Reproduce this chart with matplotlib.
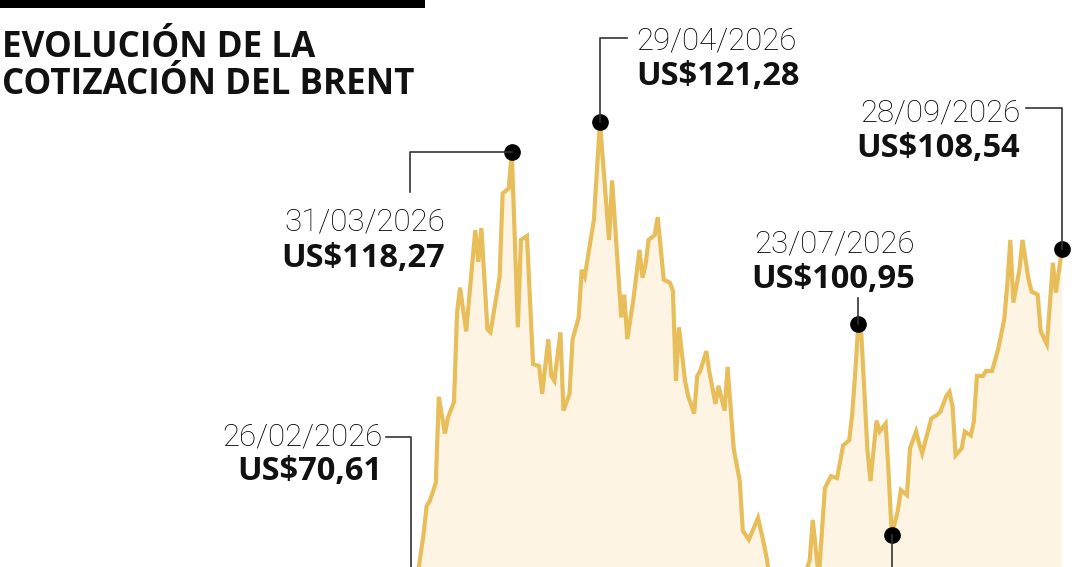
import matplotlib
matplotlib.use("Agg")
import matplotlib.pyplot as plt
import matplotlib.dates as mdates
import pandas as pd
from matplotlib.lines import Line2D
from matplotlib.patches import Rectangle

# ---------------- data ----------------
dates = [
    "2026-02-26", "2026-02-27", "2026-03-02", "2026-03-03", "2026-03-04", "2026-03-06",
    "2026-03-07", "2026-03-09", "2026-03-10", "2026-03-12", "2026-03-13", "2026-03-14",
    "2026-03-16", "2026-03-17", "2026-03-19", "2026-03-20", "2026-03-21", "2026-03-23",
    "2026-03-24", "2026-03-27", "2026-03-28", "2026-03-30", "2026-03-31", "2026-04-02",
    "2026-04-03", "2026-04-05", "2026-04-06", "2026-04-07", "2026-04-09", "2026-04-10",
    "2026-04-12", "2026-04-13", "2026-04-14", "2026-04-16", "2026-04-17", "2026-04-19",
    "2026-04-20", "2026-04-22", "2026-04-23", "2026-04-24", "2026-04-27", "2026-04-29",
    "2026-05-02", "2026-05-03", "2026-05-04", "2026-05-06", "2026-05-07", "2026-05-08",
    "2026-05-10", "2026-05-12", "2026-05-13", "2026-05-14", "2026-05-15", "2026-05-17",
    "2026-05-18", "2026-05-20", "2026-05-22", "2026-05-23", "2026-05-24", "2026-05-25",
    "2026-05-27", "2026-05-28", "2026-05-30", "2026-05-31", "2026-06-01", "2026-06-03",
    "2026-06-04", "2026-06-06", "2026-06-07", "2026-06-09", "2026-06-10", "2026-06-12",
    "2026-06-14", "2026-06-15", "2026-06-17", "2026-06-20", "2026-06-22", "2026-06-23",
    "2026-06-24", "2026-06-26", "2026-06-27", "2026-06-29", "2026-07-01", "2026-07-02",
    "2026-07-04", "2026-07-05", "2026-07-07", "2026-07-08", "2026-07-10", "2026-07-12",
    "2026-07-14", "2026-07-16", "2026-07-18", "2026-07-20", "2026-07-21", "2026-07-22",
    "2026-07-23", "2026-07-24", "2026-07-26", "2026-07-27", "2026-07-29", "2026-07-30",
    "2026-08-01", "2026-08-02", "2026-08-03", "2026-08-05", "2026-08-06", "2026-08-08",
    "2026-08-09", "2026-08-11", "2026-08-12", "2026-08-13", "2026-08-16", "2026-08-18",
    "2026-08-19", "2026-08-21", "2026-08-22", "2026-08-23", "2026-08-24", "2026-08-26",
    "2026-08-27", "2026-08-29", "2026-08-30", "2026-08-31", "2026-09-02", "2026-09-03",
    "2026-09-05", "2026-09-07", "2026-09-09", "2026-09-10", "2026-09-11", "2026-09-12",
    "2026-09-14", "2026-09-15", "2026-09-17", "2026-09-18", "2026-09-20", "2026-09-21",
    "2026-09-23", "2026-09-24", "2026-09-25", "2026-09-26", "2026-09-28",
]
prices = [
    70.61, 73.52, 79.90, 82.70, 83.19, 84.99,
    93.66, 89.97, 91.57, 93.16, 102.14, 104.63,
    100.24, 103.63, 110.41, 107.22, 110.61, 100.44,
    100.14, 105.73, 114.10, 114.60, 118.27, 100.64,
    109.42, 109.81, 103.43, 96.95, 96.75, 93.96,
    99.45, 95.76, 95.26, 100.14, 92.27, 93.96,
    99.45, 101.64, 106.42, 105.73, 111.41, 121.28,
    109.42, 115.40, 110.91, 101.64, 103.93, 99.45,
    103.43, 108.42, 105.63, 106.92, 109.42, 109.91,
    111.71, 105.43, 105.13, 104.33, 95.26, 100.64,
    95.26, 93.76, 91.97, 95.76, 96.26, 98.25,
    96.16, 92.96, 94.76, 92.27, 96.65, 88.48,
    85.19, 80.20, 79.31, 81.50, 78.81, 77.21,
    75.02, 73.52, 74.52, 72.53, 74.02, 73.03,
    74.52, 75.52, 77.21, 81.30, 75.52, 84.49,
    85.69, 85.49, 88.78, 89.28, 91.97, 96.16,
    100.95, 99.94, 88.28, 85.19, 91.27, 90.17,
    90.97, 85.79, 79.80, 82.20, 84.29, 83.79,
    88.48, 90.17, 88.98, 87.98, 91.47, 91.87,
    92.17, 93.76, 94.16, 92.67, 87.78, 88.48,
    90.17, 89.77, 91.17, 95.76, 95.76, 96.26,
    96.26, 98.45, 101.44, 104.93, 109.42, 103.13,
    106.42, 109.42, 105.43, 104.23, 103.93, 100.24,
    98.95, 102.93, 107.12, 104.13, 108.54,
]
highlight_dates = ["2026-02-26", "2026-03-31", "2026-04-29", "2026-07-23", "2026-08-03", "2026-09-28"]
highlight_labels = ["26/02/2026", "31/03/2026", "29/04/2026", "23/07/2026", None, "28/09/2026"]
title_lines = ["EVOLUCIÓN DE LA", "COTIZACIÓN DEL BRENT"]

# ---------------- figure ----------------
W, H = 1080, 567
fig = plt.figure(figsize=(W / 100, H / 100), dpi=100)
fig.patch.set_facecolor("white")
ax = fig.add_axes([0, 0, 1, 1])
ax.set_axis_off()

x = pd.to_datetime(dates)
base = pd.Timestamp("2026-01-01")
ax.set_xlim(base + pd.Timedelta(days=-79.35), base + pd.Timedelta(days=275.92))
ax.set_ylim(76.56, 133.53)

LINE = "#E8BE5A"
FILL = "#FDF4E3"
ax.fill_between(x, prices, 0, color=FILL, lw=0, zorder=1)
ax.plot(x, prices, color=LINE, lw=3.0, solid_joinstyle="miter", zorder=2)

price_by_date = dict(zip(dates, prices))
hx = pd.to_datetime(highlight_dates)
hy = [price_by_date[d] for d in highlight_dates]
ax.plot(hx, hy, "o", color="black", ms=11, zorder=5)


def fpx(px, py):
    return px / W, 1 - py / H


def data_px(d, v):
    dx, dy = ax.transData.transform((mdates.date2num(pd.Timestamp(d)), v))
    return dx, H - dy


def connector(points):
    xs = [p[0] / W for p in points]
    ys = [1 - p[1] / H for p in points]
    fig.add_artist(Line2D(xs, ys, transform=fig.transFigure, color="#333333", lw=1.2, zorder=4))


DATE_FONT = dict(family=["Roboto", "DejaVu Sans"], weight="light", size=22.5, color="#000000")
VAL_FONT = dict(family=["Open Sans", "DejaVu Sans"], weight="bold", size=23.5, color="#111111")


def label(date_str, value, xpx, ha, y_date, y_val):
    fig.text(*fpx(xpx, y_date), date_str, ha=ha, va="baseline", **DATE_FONT)
    fig.text(*fpx(xpx, y_val), "US$" + f"{value:.2f}".replace(".", ","), ha=ha, va="baseline", **VAL_FONT)


# 26/02
p = data_px(highlight_dates[0], hy[0])
label(highlight_labels[0], hy[0], 382, "right", 445, 480)
connector([(386, 437), (p[0], 437), p])
# 31/03
p = data_px(highlight_dates[1], hy[1])
label(highlight_labels[1], hy[1], 445, "right", 232, 267)
connector([(410, 192), (410, p[1]), p])
# 29/04
p = data_px(highlight_dates[2], hy[2])
label(highlight_labels[2], hy[2], 636, "left", 50, 85)
connector([(627, 38), (p[0], 38), p])
# 23/07
p = data_px(highlight_dates[3], hy[3])
label(highlight_labels[3], hy[3], 915, "right", 253, 288)
connector([(p[0], 298), p])
# 03/08 (label outside view)
p = data_px(highlight_dates[4], hy[4])
connector([p, (p[0], H + 5)])
# 28/09
p = data_px(highlight_dates[5], hy[5])
label(highlight_labels[5], hy[5], 1020, "right", 122, 157)
connector([(1026, 108), (p[0], 108), p])

# title + top bar
fig.add_artist(Rectangle(fpx(0, 8), 425 / W, 8 / H, transform=fig.transFigure,
                         color="black", lw=0))
TITLE_FONT = dict(family=["Open Sans", "DejaVu Sans"], weight="bold", size=25.2, color="#111111")
fig.text(*fpx(2, 57), title_lines[0], ha="left", va="baseline", **TITLE_FONT)
fig.text(*fpx(2, 94), title_lines[1], ha="left", va="baseline", **TITLE_FONT)

fig.savefig("out.png", dpi=100, facecolor="white")
